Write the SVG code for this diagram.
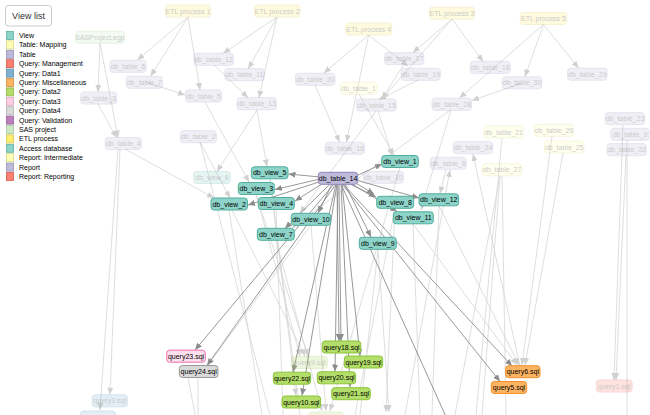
<svg xmlns="http://www.w3.org/2000/svg" width="650" height="415" viewBox="0 0 650 415">
<style>
.n rect{stroke-width:1}
.n text{font-family:"Liberation Sans",Arial,sans-serif;font-size:7px;text-anchor:middle;fill:#000}
.f{opacity:.22}
.tb rect{fill:#bebada;stroke:#8d88b9}
.mp rect{fill:#ffffb3;stroke:#d8d86a}
.etl rect{fill:#ffed6f;stroke:#d9c23a}
.sas rect{fill:#ccebc5;stroke:#8fc980}
.vw rect{fill:#8dd3c7;stroke:#4fae9d}
.d1 rect{fill:#80b1d3;stroke:#4a86b3}
.d2 rect{fill:#b3de69;stroke:#8bc43a}
.d3 rect{fill:#fce0ee;stroke:#f06eaa}
.d4 rect{fill:#d9d9d9;stroke:#999}
.misc rect{fill:#fdb462;stroke:#f0922a}
.mg rect{fill:#fb8072;stroke:#e0503f}
.e{stroke:#d6d6d6;stroke-width:.8;fill:none;marker-end:url(#af)}
.e0{stroke:#d6d6d6;stroke-width:.8;fill:none}
.h{stroke:#8c8c8c;stroke-width:.9;fill:none;marker-end:url(#ah)}
.h0{stroke:#8c8c8c;stroke-width:.9;fill:none}
.lg text{font-family:"Liberation Sans",Arial,sans-serif;font-size:7px;fill:#000}
.lg rect{stroke-width:.8}
</style>
<defs>
<marker id="af" markerUnits="userSpaceOnUse" markerWidth="7" markerHeight="6" refX="7" refY="3" orient="auto"><path d="M0,0 L7,3 L0,6 z" fill="#d0d0d0"/></marker>
<marker id="ah" markerUnits="userSpaceOnUse" markerWidth="7" markerHeight="6" refX="7" refY="3" orient="auto"><path d="M0,0 L7,3 L0,6 z" fill="#8c8c8c"/></marker>
</defs>
<rect width="650" height="415" fill="#fff"/>

<g id="connectors">
<!-- faded edges -->
<line class="e" x1="188" y1="17" x2="137.3" y2="60"/>
<line class="e" x1="188" y1="17" x2="150.7" y2="76"/>
<line class="e" x1="188" y1="17" x2="200" y2="90"/>
<line class="e" x1="277" y1="17" x2="223.3" y2="53.3"/>
<line class="e" x1="277" y1="17" x2="248.3" y2="68.7"/>
<line class="e" x1="277" y1="17" x2="259" y2="97.7"/>
<line class="e" x1="100" y1="43" x2="98" y2="92"/>
<line class="e" x1="100" y1="43" x2="118" y2="137.5"/>
<line class="e" x1="98" y1="104" x2="116.5" y2="137.5"/>
<line class="e" x1="146" y1="82" x2="185" y2="95"/>
<line class="e" x1="214" y1="65" x2="248" y2="97.7"/>
<line class="e" x1="452" y1="19" x2="413" y2="52.5"/>
<line class="e" x1="452" y1="19" x2="382" y2="99"/>
<line class="e" x1="452" y1="19" x2="483" y2="61.5"/>
<line class="e" x1="368.7" y1="35" x2="324" y2="73"/>
<line class="e" x1="368.7" y1="35" x2="408" y2="66"/>
<line class="e" x1="368.7" y1="35" x2="346.5" y2="142"/>
<line class="e" x1="543.5" y1="24.5" x2="459.5" y2="98"/>
<line class="e" x1="543.5" y1="24.5" x2="525" y2="76.5"/>
<line class="e" x1="543.5" y1="24.5" x2="578.5" y2="68"/>
<line class="e" x1="522" y1="83" x2="472" y2="100.5"/>
<line class="e" x1="404" y1="64" x2="382" y2="99"/>
<line class="e" x1="418" y1="80" x2="379" y2="99.5"/>
<line class="e" x1="315" y1="85" x2="339.5" y2="142"/>
<line class="e" x1="359" y1="94" x2="394" y2="155.5"/>
<line class="e" x1="378" y1="111" x2="392" y2="155.5"/>
<line class="e" x1="376" y1="111" x2="300" y2="213"/>
<line class="e" x1="257" y1="110" x2="267" y2="166.5"/>
<line class="e" x1="257" y1="110" x2="217" y2="171.5"/>
<line class="e" x1="205" y1="102" x2="249" y2="182"/>
<line class="e" x1="125" y1="149" x2="214" y2="198"/>
<line class="e" x1="200" y1="142" x2="230" y2="198"/>
<line class="e0" x1="200" y1="142" x2="270" y2="415"/>
<line class="e" x1="120" y1="149" x2="110" y2="394.5"/>
<line class="e" x1="118" y1="149" x2="100" y2="410"/>
<line class="e" x1="450" y1="110" x2="292" y2="228"/>
<line class="e" x1="451" y1="110" x2="421" y2="210"/>
<line class="e" x1="446" y1="169" x2="440" y2="193.5"/>
<line class="e" x1="520" y1="366" x2="473" y2="154"/>
<line class="e" x1="405" y1="415" x2="450" y2="170"/>
<line class="e0" x1="502" y1="138" x2="476" y2="415"/>
<line class="e0" x1="500" y1="176" x2="455" y2="415"/>
<line class="e0" x1="500" y1="176" x2="482" y2="415"/>
<line class="e0" x1="502" y1="176" x2="506" y2="415"/>
<line class="e" x1="552" y1="136" x2="522" y2="365"/>
<line class="e" x1="563" y1="153" x2="525" y2="365"/>
<line class="e" x1="623" y1="125" x2="614" y2="380"/>
<line class="e0" x1="627" y1="140" x2="627" y2="415"/>
<line class="e" x1="626" y1="156" x2="616" y2="380"/>
<line class="e" x1="232" y1="210" x2="305" y2="356"/>
<line class="e" x1="256" y1="194" x2="308" y2="356"/>
<line class="e0" x1="229" y1="210" x2="262" y2="415"/>
<line class="e0" x1="276" y1="209" x2="283" y2="415"/>
<line class="e" x1="276" y1="240" x2="322" y2="411"/>
<line class="e0" x1="270" y1="179" x2="300" y2="415"/>
<line class="e" x1="378" y1="249" x2="389" y2="412"/>
<line class="e0" x1="413" y1="224" x2="420" y2="415"/>
<line class="e0" x1="439" y1="206" x2="432" y2="415"/>
<line class="e" x1="395" y1="208" x2="386" y2="412"/>
<line class="e" x1="311" y1="225" x2="326" y2="411"/>
<line class="e" x1="400" y1="167" x2="330" y2="411"/>
<line class="e" x1="439" y1="206" x2="519" y2="365"/>
<line class="e" x1="413" y1="224" x2="517" y2="365"/>
<line class="e" x1="311" y1="225" x2="208" y2="365"/>
<line class="e" x1="256" y1="194" x2="300" y2="356"/>
<line class="e" x1="270" y1="179" x2="296" y2="395.5"/>
<line class="e0" x1="188" y1="377" x2="195" y2="415"/>
<line class="e0" x1="198" y1="377" x2="198" y2="415"/>
<line class="e0" x1="395" y1="208" x2="355" y2="415"/>
<line class="e0" x1="378" y1="249" x2="360" y2="415"/>
<!-- highlighted edges from db_table_14 -->
<line class="h" x1="320" y1="177" x2="288.5" y2="174"/>
<line class="h" x1="320" y1="179" x2="275" y2="189.5"/>
<line class="h" x1="322" y1="181" x2="248" y2="205"/>
<line class="h" x1="325" y1="182" x2="295" y2="201"/>
<line class="h" x1="332" y1="184" x2="318" y2="213"/>
<line class="h" x1="330" y1="184" x2="285" y2="228.5"/>
<line class="h" x1="356" y1="176" x2="382" y2="164"/>
<line class="h" x1="350" y1="184" x2="376" y2="197"/>
<line class="h" x1="354" y1="182" x2="374" y2="194"/>
<line class="h" x1="356" y1="180" x2="419" y2="198"/>
<line class="h" x1="352" y1="184" x2="397" y2="211.5"/>
<line class="h" x1="345" y1="184" x2="371" y2="237"/>
<line class="h" x1="334" y1="184" x2="195" y2="350"/>
<line class="h" x1="336" y1="184" x2="207" y2="365.5"/>
<line class="h" x1="339" y1="184" x2="341" y2="341"/>
<line class="h" x1="337" y1="184" x2="339" y2="341"/>
<line class="h" x1="342" y1="184" x2="360" y2="356"/>
<line class="h" x1="338" y1="184" x2="335" y2="371.5"/>
<line class="h" x1="341" y1="184" x2="350" y2="387"/>
<line class="h" x1="336" y1="184" x2="293" y2="372"/>
<line class="h" x1="337" y1="184" x2="302" y2="395.5"/>
<line class="h" x1="343" y1="184" x2="512" y2="366"/>
<line class="h" x1="342" y1="184" x2="500" y2="381.5"/>
<line class="h0" x1="341" y1="184" x2="452" y2="430"/>
</g>

<g id="nodes">
<g id="etl1" class="n etl f" transform="translate(188,11)"><rect x="-22.7" y="-6" width="45.4" height="12" rx="3"/><text y="2.5">ETL process 1</text></g>
<g id="etl2" class="n etl f" transform="translate(277.2,11)"><rect x="-22.7" y="-6" width="45.4" height="12" rx="3"/><text y="2.5">ETL process 2</text></g>
<g id="etl3" class="n etl f" transform="translate(452,13.2)"><rect x="-22.7" y="-6" width="45.4" height="12" rx="3"/><text y="2.5">ETL process 3</text></g>
<g id="etl4" class="n etl f" transform="translate(368.7,29)"><rect x="-23" y="-6" width="46" height="12" rx="3"/><text y="2.5">ETL process 4</text></g>
<g id="etl5" class="n etl f" transform="translate(543.5,18.5)"><rect x="-23.2" y="-6" width="46.4" height="12" rx="3"/><text y="2.5">ETL process 5</text></g>
<g id="sas" class="n sas f" transform="translate(100,37.2)"><rect x="-24.3" y="-6" width="48.6" height="12" rx="3"/><text y="2.5">SASProject.egp</text></g>
<g id="t6" class="n tb f" transform="translate(128,66.3)"><rect x="-18" y="-6" width="36" height="12" rx="3"/><text y="2.5">db_table_6</text></g>
<g id="t7" class="n tb f" transform="translate(144.3,82.3)"><rect x="-18" y="-6" width="36" height="12" rx="3"/><text y="2.5">db_table_7</text></g>
<g id="t12" class="n tb f" transform="translate(213.7,59.3)"><rect x="-19.7" y="-6" width="39.4" height="12" rx="3"/><text y="2.5">db_table_12</text></g>
<g id="t11" class="n tb f" transform="translate(244.5,74.7)"><rect x="-19.7" y="-6" width="39.4" height="12" rx="3"/><text y="2.5">db_table_11</text></g>
<g id="t3" class="n tb f" transform="translate(98.7,98)"><rect x="-18" y="-6" width="36" height="12" rx="3"/><text y="2.5">db_table_3</text></g>
<g id="t5" class="n tb f" transform="translate(203.5,96)"><rect x="-18" y="-6" width="36" height="12" rx="3"/><text y="2.5">db_table_5</text></g>
<g id="t13" class="n tb f" transform="translate(256.7,103.7)"><rect x="-19.7" y="-6" width="39.4" height="12" rx="3"/><text y="2.5">db_table_13</text></g>
<g id="t20" class="n tb f" transform="translate(315.2,79.3)"><rect x="-19.7" y="-6" width="39.4" height="12" rx="3"/><text y="2.5">db_table_20</text></g>
<g id="t17" class="n tb f" transform="translate(404.2,58.7)"><rect x="-19.5" y="-6" width="39" height="12" rx="3"/><text y="2.5">db_table_17</text></g>
<g id="t19" class="n tb f" transform="translate(420.8,74.3)"><rect x="-19.5" y="-6" width="39" height="12" rx="3"/><text y="2.5">db_table_19</text></g>
<g id="t18" class="n tb f" transform="translate(490.3,67.3)"><rect x="-20" y="-6" width="40" height="12" rx="3"/><text y="2.5">db_table_18</text></g>
<g id="t29" class="n tb f" transform="translate(587.3,74.2)"><rect x="-19.7" y="-6" width="39.4" height="12" rx="3"/><text y="2.5">db_table_29</text></g>
<g id="t30" class="n tb f" transform="translate(522,82.8)"><rect x="-19.7" y="-6" width="39.4" height="12" rx="3"/><text y="2.5">db_table_30</text></g>
<g id="t1" class="n mp f" transform="translate(358.7,88.2)"><rect x="-18.3" y="-6" width="36.6" height="12" rx="3"/><text y="2.5">db_table_1</text></g>
<g id="t15" class="n tb f" transform="translate(376.5,105)"><rect x="-19.7" y="-6" width="39.4" height="12" rx="3"/><text y="2.5">db_table_15</text></g>
<g id="t28" class="n tb f" transform="translate(451.8,104.3)"><rect x="-19.7" y="-6" width="39.4" height="12" rx="3"/><text y="2.5">db_table_28</text></g>
<g id="t16" class="n tb f" transform="translate(344.8,148.2)"><rect x="-19.5" y="-6" width="39" height="12" rx="3"/><text y="2.5">db_table_16</text></g>
<g id="t10" class="n tb f" transform="translate(383.3,177.3)"><rect x="-20" y="-6" width="40" height="12" rx="3"/><text y="2.5">db_table_10</text></g>
<g id="t24" class="n tb f" transform="translate(473,147.7)"><rect x="-19.7" y="-6" width="39.4" height="12" rx="3"/><text y="2.5">db_table_24</text></g>
<g id="t8" class="n tb f" transform="translate(448.3,163.2)"><rect x="-18" y="-6" width="36" height="12" rx="3"/><text y="2.5">db_table_8</text></g>
<g id="t21" class="n mp f" transform="translate(503.7,132)"><rect x="-19.7" y="-6" width="39.4" height="12" rx="3"/><text y="2.5">db_table_21</text></g>
<g id="t27" class="n mp f" transform="translate(502,169.8)"><rect x="-19.7" y="-6" width="39.4" height="12" rx="3"/><text y="2.5">db_table_27</text></g>
<g id="t26" class="n mp f" transform="translate(554,130.3)"><rect x="-19.7" y="-6" width="39.4" height="12" rx="3"/><text y="2.5">db_table_26</text></g>
<g id="t25" class="n mp f" transform="translate(564.2,147)"><rect x="-19.7" y="-6" width="39.4" height="12" rx="3"/><text y="2.5">db_table_25</text></g>
<g id="t23" class="n tb f" transform="translate(625,118.7)"><rect x="-19.7" y="-6" width="39.4" height="12" rx="3"/><text y="2.5">db_table_23</text></g>
<g id="t9" class="n tb f" transform="translate(630,134.3)"><rect x="-19.2" y="-6" width="38.4" height="12" rx="3"/><text y="2.5">db_table_9</text></g>
<g id="t22" class="n tb f" transform="translate(626.7,149.7)"><rect x="-19.7" y="-6" width="39.4" height="12" rx="3"/><text y="2.5">db_table_22</text></g>
<g id="t4" class="n tb f" transform="translate(123.3,143.5)"><rect x="-18" y="-6" width="36" height="12" rx="3"/><text y="2.5">db_table_4</text></g>
<g id="t2" class="n tb f" transform="translate(198.3,136.7)"><rect x="-18" y="-6" width="36" height="12" rx="3"/><text y="2.5">db_table_2</text></g>
<g id="v6" class="n vw f" transform="translate(212,177.5)"><rect x="-18.3" y="-6" width="36.6" height="12" rx="3"/><text y="2.5">db_view_6</text></g>
<g id="q3" class="n d1 f" transform="translate(109.8,400.8)"><rect x="-17.5" y="-6" width="35" height="12" rx="3"/><text y="2.5">query3.sql</text></g>
<g id="qb1" class="n d1 f" transform="translate(98,417)"><rect x="-17.5" y="-6" width="35" height="12" rx="3"/></g>
<g id="q9" class="n d2 f" transform="translate(309.5,362.5)"><rect x="-17.8" y="-6" width="35.6" height="12" rx="3"/><text y="2.5">query9.sql</text></g>
<g id="qb2" class="n d2 f" transform="translate(326,418)"><rect x="-17" y="-6" width="34" height="12" rx="3"/></g>
<g id="q1" class="n mg f" transform="translate(614.2,386)"><rect x="-17.9" y="-6" width="35.8" height="12" rx="3"/><text y="2.5">query1.sql</text></g>

<g id="t14" class="n tb" transform="translate(338,178.3)"><rect x="-19.7" y="-6" width="39.4" height="12" rx="3"/><text y="2.5">db_table_14</text></g>
<g id="v1" class="n vw" transform="translate(400,161.5)"><rect x="-18.3" y="-6" width="36.6" height="12" rx="3"/><text y="2.5">db_view_1</text></g>
<g id="v5" class="n vw" transform="translate(269.7,172.8)"><rect x="-18.3" y="-6" width="36.6" height="12" rx="3"/><text y="2.5">db_view_5</text></g>
<g id="v3" class="n vw" transform="translate(256.3,188.5)"><rect x="-18" y="-6" width="36" height="12" rx="3"/><text y="2.5">db_view_3</text></g>
<g id="v2" class="n vw" transform="translate(229.2,204)"><rect x="-18.2" y="-6" width="36.4" height="12" rx="3"/><text y="2.5">db_view_2</text></g>
<g id="v4" class="n vw" transform="translate(276.3,203.5)"><rect x="-18" y="-6" width="36" height="12" rx="3"/><text y="2.5">db_view_4</text></g>
<g id="v7" class="n vw" transform="translate(275.8,234.3)"><rect x="-18.5" y="-6" width="37" height="12" rx="3"/><text y="2.5">db_view_7</text></g>
<g id="v10" class="n vw" transform="translate(311,219.3)"><rect x="-19.7" y="-6" width="39.4" height="12" rx="3"/><text y="2.5">db_view_10</text></g>
<g id="v8" class="n vw" transform="translate(395.2,202.3)"><rect x="-18.5" y="-6" width="37" height="12" rx="3"/><text y="2.5">db_view_8</text></g>
<g id="v12" class="n vw" transform="translate(438.8,199.8)"><rect x="-19.8" y="-6" width="39.6" height="12" rx="3"/><text y="2.5">db_view_12</text></g>
<g id="v11" class="n vw" transform="translate(413.3,217.8)"><rect x="-20" y="-6" width="40" height="12" rx="3"/><text y="2.5">db_view_11</text></g>
<g id="v9" class="n vw" transform="translate(377.8,243.3)"><rect x="-18.5" y="-6" width="37" height="12" rx="3"/><text y="2.5">db_view_9</text></g>
<g id="q23" class="n d3" transform="translate(186,356.2)"><rect x="-19.3" y="-6" width="38.6" height="12" rx="3"/><text y="2.5">query23.sql</text></g>
<g id="q24" class="n d4" transform="translate(198.7,371.5)"><rect x="-19.3" y="-6" width="38.6" height="12" rx="3"/><text y="2.5">query24.sql</text></g>
<g id="q18" class="n d2" transform="translate(341.5,347)"><rect x="-19.3" y="-6" width="38.6" height="12" rx="3"/><text y="2.5">query18.sql</text></g>
<g id="q19" class="n d2" transform="translate(363.5,362)"><rect x="-19.2" y="-6" width="38.4" height="12" rx="3"/><text y="2.5">query19.sql</text></g>
<g id="q20" class="n d2" transform="translate(336.5,377.8)"><rect x="-19.2" y="-6" width="38.4" height="12" rx="3"/><text y="2.5">query20.sql</text></g>
<g id="q21" class="n d2" transform="translate(351,393.7)"><rect x="-19.3" y="-6" width="38.6" height="12" rx="3"/><text y="2.5">query21.sql</text></g>
<g id="q22" class="n d2" transform="translate(292,378.2)"><rect x="-18.7" y="-6" width="37.4" height="12" rx="3"/><text y="2.5">query22.sql</text></g>
<g id="q10" class="n d2" transform="translate(301.3,402)"><rect x="-19.3" y="-6" width="38.6" height="12" rx="3"/><text y="2.5">query10.sql</text></g>
<g id="q6" class="n misc" transform="translate(522.8,371.7)"><rect x="-17.2" y="-6" width="34.4" height="12" rx="3"/><text y="2.5">query6.sql</text></g>
<g id="q5" class="n misc" transform="translate(509,387.5)"><rect x="-17.7" y="-6" width="35.4" height="12" rx="3"/><text y="2.5">query5.sql</text></g>
</g>

<g id="viewlist">
<rect x="5.5" y="5.5" width="46" height="20.5" rx="3" fill="#fff" stroke="#ccc"/>
<text x="28.5" y="19" font-family="'Liberation Sans',Arial,sans-serif" font-size="9" text-anchor="middle" fill="#333">View list</text>
</g>
<g id="legend" class="lg">
<rect x="6.5" y="31.5" width="7" height="8" fill="#8dd3c7" stroke="#5fb0a2"/><text x="19" y="38">View</text>
<rect x="6.5" y="40.9" width="7" height="8" fill="#ffffb3" stroke="#d6d68a"/><text x="19" y="47.4">Table: Mapping</text>
<rect x="6.5" y="50.3" width="7" height="8" fill="#bebada" stroke="#9692b6"/><text x="19" y="56.8">Table</text>
<rect x="6.5" y="59.7" width="7" height="8" fill="#fb8072" stroke="#d25a4c"/><text x="19" y="66.2">Query: Management</text>
<rect x="6.5" y="69.1" width="7" height="8" fill="#80b1d3" stroke="#5a8cae"/><text x="19" y="75.6">Query: Data1</text>
<rect x="6.5" y="78.5" width="7" height="8" fill="#fdb462" stroke="#d38e3e"/><text x="19" y="85">Query: Miscellaneous</text>
<rect x="6.5" y="87.9" width="7" height="8" fill="#b3de69" stroke="#8cb745"/><text x="19" y="94.4">Query: Data2</text>
<rect x="6.5" y="97.3" width="7" height="8" fill="#fccde5" stroke="#d4a6be"/><text x="19" y="103.8">Query: Data3</text>
<rect x="6.5" y="106.7" width="7" height="8" fill="#d9d9d9" stroke="#b2b2b2"/><text x="19" y="113.2">Query: Data4</text>
<rect x="6.5" y="116.1" width="7" height="8" fill="#bc80bd" stroke="#965b97"/><text x="19" y="122.6">Query: Validation</text>
<rect x="6.5" y="125.5" width="7" height="8" fill="#ccebc5" stroke="#a6c5a0"/><text x="19" y="132">SAS project</text>
<rect x="6.5" y="134.9" width="7" height="8" fill="#ffed6f" stroke="#d6c54b"/><text x="19" y="141.4">ETL process</text>
<rect x="6.5" y="144.3" width="7" height="8" fill="#8dd3c7" stroke="#5fb0a2"/><text x="19" y="150.8">Access database</text>
<rect x="6.5" y="153.7" width="7" height="8" fill="#ffffb3" stroke="#d6d68a"/><text x="19" y="160.2">Report: Intermediate</text>
<rect x="6.5" y="163.1" width="7" height="8" fill="#bebada" stroke="#9692b6"/><text x="19" y="169.6">Report</text>
<rect x="6.5" y="172.5" width="7" height="8" fill="#fb8072" stroke="#d25a4c"/><text x="19" y="179">Report: Reporting</text>
</g>
</svg>
